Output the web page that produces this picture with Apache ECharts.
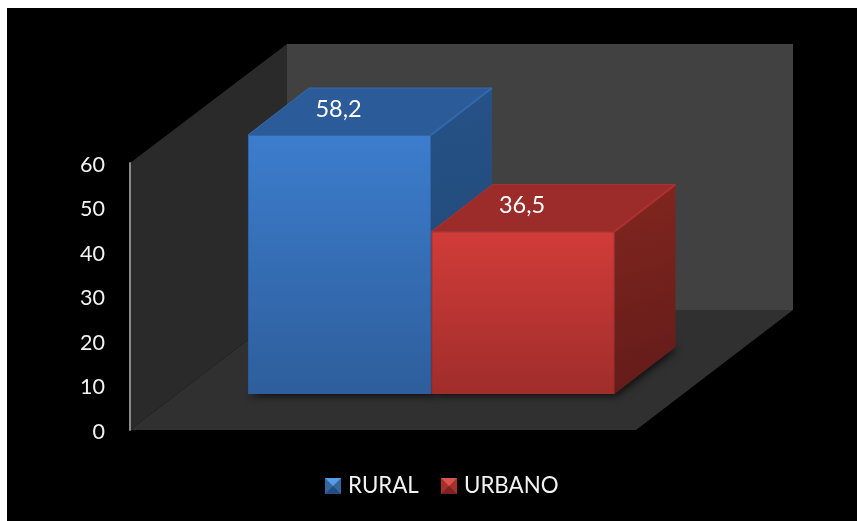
<!DOCTYPE html>
<html><head><meta charset="utf-8">
<style>html,body{margin:0;padding:0;background:#fff}#c{width:857px;height:521px}</style>
<script src="https://cdn.jsdelivr.net/npm/echarts@6/dist/echarts.min.js"></script>
</head><body><div id="c"></div>
<script>
const categories = ['Total'];
const ruralValues = [58.2];
const urbanValues = [36.5];
const yTicks = [0, 10, 20, 30, 40, 50, 60];
const FONT = 'Lato';
const DX = 157, DY = -120;          // depth of the 3D box
const BAR_SHIFT = [48, -36];        // bar position inside the box depth
const BAR_DEPTH = [61, -47];
const BAR_RATIO = 0.3617;

function grad(x, y, x2, y2, a, b) {
  return { type: 'linear', x, y, x2, y2, colorStops: [{ offset: 0, color: a }, { offset: 1, color: b }] };
}
const palette = [
  { front: grad(0,0,0,1,'#3c7dcd','#2e5e9c'), side: grad(0,0,1,1,'#265288','#1f4670'), top: '#2b5c99', edge: '#3569ad', dark: '#2a5690' },
  { front: grad(0,0,0,1,'#d13c39','#a02d2b'), side: grad(0,0,1,1,'#82261f','#621b19'), top: '#9c2c2a', edge: '#ad3230', dark: '#8f2a28' }
];

function geom(api, seriesPos) {
  const band = api.size([1, 0])[0];
  const w = band * BAR_RATIO;
  const p0 = api.coord([api.value(0), 0]);
  const p1 = api.coord([api.value(0), api.value(1)]);
  const l = p0[0] - w + seriesPos * (w + 0.5) + BAR_SHIFT[0];
  const r = l + w;
  const b = p0[1] + BAR_SHIFT[1];
  const t = p1[1] + BAR_SHIFT[1];
  return { l, r, b, t };
}
function poly(points, style, extra) {
  return Object.assign({ type: 'polygon', shape: { points }, style }, extra || {});
}
function backdrop(params, api) {
  const o = api.coord([0, 0]);
  const band = api.size([1, 0])[0];
  const L = o[0] - band / 2, R = o[0] + band / 2;
  const B = o[1], T = api.coord([0, yTicks[yTicks.length - 1]])[1];
  return { type: 'group', children: [
    poly([[L+DX,T+DY+1],[R+DX,T+DY+1],[R+DX,B+DY],[L+DX,B+DY]], { fill: '#414141' }),
    poly([[L,T],[L+DX,T+DY+1],[L+DX,B+DY],[L,B]], { fill: '#2a2a2a' }),
    poly([[L,B],[R,B],[R+DX,B+DY],[L+DX,B+DY]], { fill: '#303030' })
  ]};
}
function shadow(pos) {
  return function (params, api) {
    const g = geom(api, pos), dx = BAR_DEPTH[0], dy = BAR_DEPTH[1];
    return poly([[g.l,g.b],[g.r,g.b],[g.r+dx,g.b+dy],[g.l+dx,g.b+dy]],
      { fill: '#222', shadowColor: 'rgba(0,0,0,0.85)', shadowBlur: 9, shadowOffsetX: 2, shadowOffsetY: 1 });
  };
}
function bar(pos) {
  return function (params, api) {
    const g = geom(api, pos), c = palette[pos], dx = BAR_DEPTH[0], dy = BAR_DEPTH[1];
    const label = String(api.value(1)).replace('.', ',');
    return { type: 'group', children: [
      poly([[g.r,g.t],[g.r+dx,g.t+dy],[g.r+dx,g.b+dy],[g.r,g.b]], { fill: c.side }),
      poly([[g.l,g.t],[g.r,g.t],[g.r+dx,g.t+dy],[g.l+dx,g.t+dy]], { fill: c.top }),
      { type: 'polyline', shape: { points: [[g.r,g.t],[g.r+dx,g.t+dy]] }, style: { stroke: c.edge, lineWidth: 2, fill: null } },
      { type: 'polyline', shape: { points: [[g.l,g.t],[g.l+dx,g.t+dy],[g.r+dx,g.t+dy]] }, style: { stroke: c.edge, lineWidth: 1, fill: null } },
      { type: 'rect', shape: { x: g.l, y: g.t, width: g.r - g.l, height: g.b - g.t }, style: { fill: c.front } },
      { type: 'polyline', shape: { points: [[g.l+.5,g.b],[g.l+.5,g.t+.5],[g.r-.5,g.t+.5],[g.r-.5,g.b]] }, style: { stroke: c.dark, lineWidth: 1, opacity: .55, fill: null } },
      { type: 'text', style: { text: label, x: (g.l + g.r) / 2 - 1, y: g.t - 26, align: 'center', verticalAlign: 'middle',
        fill: '#ffffff', font: '23.5px ' + FONT } }
    ]};
  };
}
function legendIcon(x, y, s, lt, dk) {
  const m = s / 2;
  return { type: 'group', x, y, silent: true, children: [
    { type: 'polygon', z: 100, shape: { points: [[0,0],[s,0],[m,m]] }, style: { fill: lt } },
    { type: 'polygon', z: 100, shape: { points: [[0,s],[s,s],[m,m]] }, style: { fill: dk } }
  ]};
}
const legendBase = { icon: 'rect', top: 475, padding: 0, itemWidth: 16, itemHeight: 16, itemGap: 0,
  textStyle: { color: '#f2f2f2', fontFamily: FONT, fontSize: 22.3, padding: [0,0,0,2] } };
const chart = echarts.init(document.getElementById('c'), null, { renderer: 'canvas' });
chart.setOption({
  animation: false,
  backgroundColor: '#ffffff',
  graphic: [
    { type: 'rect', z: -10, silent: true, shape: { x: 7, y: 8, width: 850, height: 513 }, style: { fill: '#000000' } },
    legendIcon(325, 478, 16, '#5a9be8', '#234c80'),
    legendIcon(441, 478, 16, '#d9534f', '#7c2220')
  ],
  grid: { left: 130, top: 163, width: 506, height: 267, containLabel: false },
  xAxis: { type: 'category', data: categories, axisLine: { show: false }, axisTick: { show: false }, axisLabel: { show: false } },
  yAxis: { type: 'value', min: 0, max: 60, interval: 10, z: 6,
    axisLine: { show: true, lineStyle: { color: '#8a8a8a', width: 2 } }, axisTick: { show: false }, splitLine: { show: false },
    axisLabel: { margin: 25, formatter: '{t|{value}}',
      rich: { t: { color: '#f2f2f2', fontFamily: FONT, fontSize: 21.5, padding: [4,0,0,0] } } } },
  legend: [
    Object.assign({ data: ['RURAL'], left: 325 }, legendBase),
    Object.assign({ data: ['URBANO'], left: 441 }, legendBase)
  ],
  series: [
    { type: 'custom', name: 'box', z: 1, data: [[0, 0]], encode: { x: 0, y: 1 }, renderItem: backdrop, silent: true },
    { type: 'custom', name: 'shadeA', z: 2, data: categories.map((c, i) => [i, ruralValues[i]]), encode: { x: 0, y: 1 }, renderItem: shadow(0), silent: true },
    { type: 'custom', name: 'shadeB', z: 2, data: categories.map((c, i) => [i, urbanValues[i]]), encode: { x: 0, y: 1 }, renderItem: shadow(1), silent: true },
    { type: 'custom', name: 'RURAL', z: 3, itemStyle: { color: '#33689f' }, data: categories.map((c, i) => [i, ruralValues[i]]), encode: { x: 0, y: 1 }, renderItem: bar(0) },
    { type: 'custom', name: 'URBANO', z: 3, itemStyle: { color: '#a92f2d' }, data: categories.map((c, i) => [i, urbanValues[i]]), encode: { x: 0, y: 1 }, renderItem: bar(1) }
  ]
});
</script></body></html>
